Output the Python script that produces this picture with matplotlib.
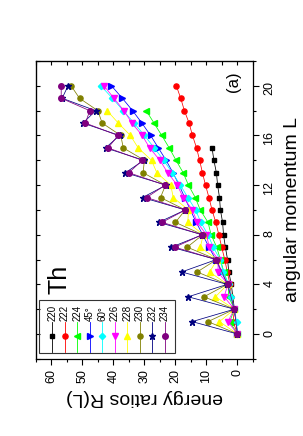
import numpy as np
import matplotlib.pyplot as plt
from matplotlib.patches import Rectangle

plt.rcParams['font.family'] = ['Liberation Sans', 'DejaVu Sans']

# series: angular momentum L and energy ratio R(L)
L_220 = [0, 2, 4, 5, 6, 7, 8, 9, 10, 11, 12, 13, 14, 15]
R_220 = [0, 1, 2.0, 2.8, 3.2, 3.9, 4.5, 4.8, 5.5, 5.8, 6.4, 6.8, 7.6, 8.2]

L_222 = list(range(0, 21))
R_222 = [0, 1.4, 1, 2.0, 2.4, 3.3, 4.1, 5.1, 6.0, 7.0, 8.2, 9.2, 10.3, 11.3,
         12.2, 13.2, 14.5, 15.6, 17.1, 18.3, 19.7]

L_224 = list(range(0, 19))
R_224 = [0, 2.5, 1, 2.8, 3.0, 4.4, 5.5, 6.7, 8.5, 9.5, 12.0, 13.6, 15.8, 17.5,
         19.8, 22.0, 24.4, 26.9, 29.4]

L_45 = [0, 2] + list(range(4, 21))
R_45 = [0, 1, 3.2, 5.2, 7.0, 9.2, 11.2, 13.3, 15.2, 17.0, 18.8, 20.8, 23.0,
        25.5, 28.0, 30.8, 33.8, 37.1, 40.6]

L_60 = list(range(0, 21))
R_60 = [0, 0.3, 1, 2.0, 2.8, 4.6, 5.6, 7.8, 9.5, 11.8, 13.5, 16.0, 18.4, 21.0,
        23.8, 26.8, 30.0, 33.3, 36.8, 40.3, 44.0]

L_226 = list(range(0, 21))
R_226 = [0, 3.1, 1, 4.3, 3.1, 6.3, 6.2, 9.1, 10.0, 13.0, 14.5, 17.5, 19.4,
         22.5, 25.0, 28.3, 30.7, 34.0, 36.6, 39.8, 43.0]

L_228 = list(range(0, 19))
R_228 = [0, 5.8, 1, 7.1, 3.2, 9.0, 6.5, 12.0, 11.0, 16.0, 15.8, 20.7, 21.5,
         26.0, 27.7, 32.0, 34.5, 38.4, 42.0]

L_230 = list(range(0, 21))
R_230 = [0, 9.5, 1, 10.8, 3.3, 13.0, 6.7, 16.2, 11.2, 20.0, 16.8, 24.8, 23.2,
         30.4, 30.0, 36.8, 37.6, 43.6, 45.0, 50.9, 53.6]

L_232 = list(range(0, 21))
R_232 = [0, 14.6, 1, 15.9, 3.3, 18.0, 6.8, 21.3, 11.3, 25.4, 16.8, 30.6, 23.0,
         36.1, 30.2, 42.5, 38.0, 49.8, 45.7, 56.5, 54.6]

L_234 = [0, 2, 4, 6, 7, 8, 9, 10, 11, 12, 13, 14, 15, 16, 17, 18, 19, 20]
R_234 = [0, 1, 3.2, 6.8, 20.2, 11.4, 24.3, 16.8, 29.3, 23.3, 35.0, 30.7, 41.7,
         38.5, 49.0, 47.6, 56.8, 56.8]

names = ['220', '222', '224', '45°', '60°', '226', '228', '230', '232', '234']
Ls = [L_220, L_222, L_224, L_45, L_60, L_226, L_228, L_230, L_232, L_234]
Rs = [R_220, R_222, R_224, R_45, R_60, R_226, R_228, R_230, R_232, R_234]
colors = ['#000000', '#ff0000', '#00ff00', '#0000ff', '#00ffff', '#ff00ff',
          '#ffff00', '#808000', '#000080', '#800080']
markers = ['s', 'o', '<', '>', 'D', 'v', '^', 'o', '*', 'o']
msizes = [3.2, 3.7, 4, 4, 3.2, 4, 4, 3.7, 4.6, 4]

fig = plt.figure(figsize=(3.03, 4.36), dpi=100)
ax = fig.add_axes([0.118, 0.177, 0.717, 0.683])

# the whole chart is turned a quarter turn: R runs right-to-left, L upward
for L, R, c, m, s in zip(Ls, Rs, colors, markers, msizes):
    ax.plot(R, L, color=c, lw=0.55, marker=m, ms=s, mec=c, mfc=c)

ax.set_xlim(65, -5)
ax.set_ylim(-2, 22)

ax.set_xticks(np.arange(0, 61, 10))
ax.set_xticks(np.arange(-5, 66, 5), minor=True)
ax.yaxis.tick_right()
ax.set_yticks(np.arange(0, 21, 4))
ax.set_yticks(np.arange(-2, 23, 2), minor=True)
ax.tick_params(which='both', direction='out', labelsize=9, width=0.8,
               top=False, left=False, labelrotation=90)
ax.tick_params(which='major', length=4)
ax.tick_params(which='minor', length=2.5)
for sp in ax.spines.values():
    sp.set_linewidth(0.9)

top = ax.secondary_xaxis('top')
top.set_xticks(np.arange(-5, 66, 5), labels=[])
top.tick_params(direction='in', length=3, width=0.8)
lft = ax.secondary_yaxis('left')
lft.set_yticks(np.arange(-2, 23, 2), labels=[])
lft.tick_params(direction='in', length=3, width=0.8)

ax.yaxis.set_label_position('right')
ax.set_ylabel('angular momentum L', fontsize=14, rotation=90, labelpad=6)
ax.set_xlabel('energy ratios R(L)', fontsize=14, rotation=180, labelpad=4)

ax.text(57.3, 4.4, 'Th', fontsize=18, rotation=90, ha='center', va='center')
ax.text(1.2, 20.3, '(a)', fontsize=12, rotation=90, ha='center', va='center')

# legend, drawn by hand so it can turn with the chart
ax.add_patch(Rectangle((0.015, 0.02), 0.626, 0.178, transform=ax.transAxes,
                       fill=False, lw=0.8, ec='#333333', zorder=5))
for i, (n, c, m, s) in enumerate(zip(names, colors, markers, msizes)):
    fx = (16.6 + 12.5 * i) / 217.3
    ax.plot([fx, fx], [0.023, 0.122], transform=ax.transAxes, color=c,
            lw=0.6, zorder=6)
    ax.plot([fx], [0.077], transform=ax.transAxes, color=c, marker=m, ms=s,
            zorder=6)
    ax.text(fx, 0.127, n, transform=ax.transAxes, fontsize=7, rotation=90,
            ha='center', va='bottom', zorder=6)

fig.savefig('out.png', dpi=100)
